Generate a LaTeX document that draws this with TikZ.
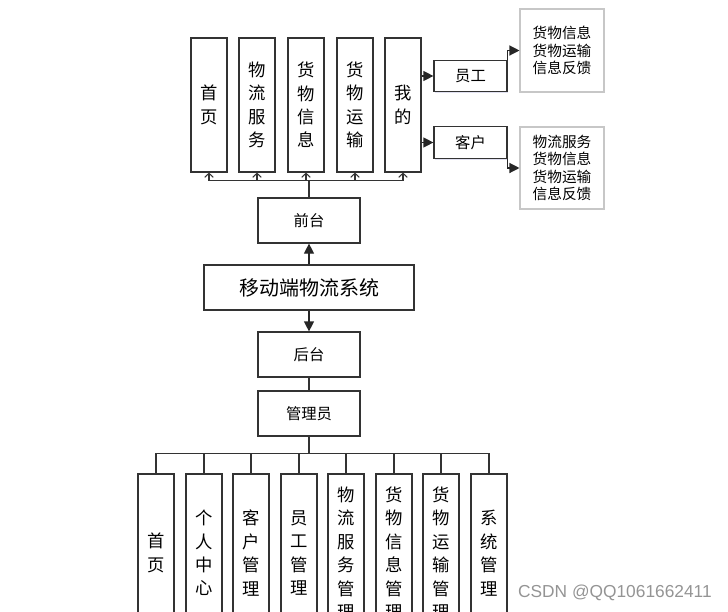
\documentclass[tikz,border=0pt]{standalone}
\usepackage{fontspec}
\setmainfont{Noto Sans CJK SC}
\newfontfamily\marksf{Liberation Sans}
\usetikzlibrary{arrows.meta,shadows}

\tikzset{
  softshadow/.style={drop shadow={opacity=0.12, shadow xshift=1pt, shadow yshift=-1pt, fill=blue!50!black}},
  vbox/.style={draw=black!80, fill=white, line width=0.9pt, softshadow, minimum width=27pt, minimum height=100.5pt, inner sep=0pt, align=center, font=\fontsize{13}{17.6}\selectfont},
  lowbox/.style={vbox, minimum height=118.5pt},
  hbox/.style={draw=black!80, fill=white, line width=0.9pt, softshadow, minimum width=76.5pt, minimum height=33.75pt, inner sep=0pt, font=\fontsize{11.5}{13}\selectfont},
  rolebox/.style={hbox, minimum width=54.75pt, minimum height=23.5pt},
  infobox/.style={draw=black!22, fill=white, line width=0.8pt, softshadow, minimum width=63pt, inner sep=0pt, align=center, font=\fontsize{11}{13.1}\selectfont},
  fillarr/.style={-{Triangle[length=7.5pt,width=7.5pt]}, line width=0.9pt, black!85},
  openarr/.style={-{Straight Barb[length=3pt,width=6.5pt]}, line width=0.8pt, black!80},
  plain/.style={line width=0.9pt, black!80}
}

\begin{document}
\begin{tikzpicture}[x=0.75pt,y=-0.75pt]
  \clip (0,0) rectangle (728,611);
  % front-end pages
  \node[vbox] (home)  at (209,105) {首\\页};
  \node[vbox] (logi)  at (257,105) {物\\流\\服\\务};
  \node[vbox] (goods) at (306,105) {货\\物\\信\\息};
  \node[vbox] (trans) at (355,105) {货\\物\\运\\输};
  \node[vbox] (mine)  at (403,105) {我\\的};
  % roles under "mine"
  \node[rolebox] (staff) at (470.5,76) {员工};
  \node[rolebox] (cust)  at (470.5,142.5) {客户};
  \node[infobox, minimum height=62.25pt] (info1) at (562,50.5) {货物信息\\货物运输\\信息反馈};
  \node[infobox, minimum height=61.5pt] (info2) at (562,168) {物流服务\\货物信息\\货物运输\\信息反馈};
  % middle column
  \node[hbox] (front) at (309,220.5) {前台};
  \node[hbox, minimum width=157.5pt, font=\fontsize{15}{17}\selectfont] (sys) at (309,287.5) {移动端物流系统};
  \node[hbox] (back)  at (309,354.5) {后台};
  \node[hbox] (admin) at (309,413.5) {管理员};
  % back-end modules
  \node[lowbox] (bhome)  at (156,553) {首\\页};
  \node[lowbox] (bself)  at (204,553) {个\\人\\中\\心};
  \node[lowbox] (bcust)  at (251,553) {客\\户\\管\\理};
  \node[lowbox] (bstaff) at (299,553) {员\\工\\管\\理};
  \node[lowbox] (blogi)  at (346,553) {物\\流\\服\\务\\管\\理};
  \node[lowbox] (bgoods) at (394,553) {货\\物\\信\\息\\管\\理};
  \node[lowbox] (btrans) at (441,553) {货\\物\\运\\输\\管\\理};
  \node[lowbox] (bsys)   at (489,553) {系\\统\\管\\理};
  % connectors
  \foreach \n in {home,logi,goods,trans,mine}
    \draw[openarr] (front.north) -- ++(0,-17) -| (\n.south);
  \draw[plain] (mine.east |- staff.west) -- (mine.east |- cust.west);
  \draw[fillarr] (mine.east |- staff.west) -- (staff.west);
  \draw[fillarr] (mine.east |- cust.west) -- (cust.west);
  \draw[fillarr] (staff.north east) |- (info1.west);
  \draw[fillarr] (cust.south east) |- (info2.west);
  \draw[fillarr] (sys.north) -- (front.south);
  \draw[fillarr] (sys.south) -- (back.north);
  \draw[plain] (back.south) -- (admin.north);
  \foreach \n in {bhome,bself,bcust,bstaff,blogi,bgoods,btrans,bsys}
    \draw[plain] (admin.south) -- ++(0,17) -| (\n.north);
  % watermark
  \node[anchor=east, inner sep=0pt, text=black!42, font=\marksf\fontsize{13}{15}\selectfont] (mark) at (712,593) {CSDN @QQ1061662411};
\end{tikzpicture}
\end{document}
